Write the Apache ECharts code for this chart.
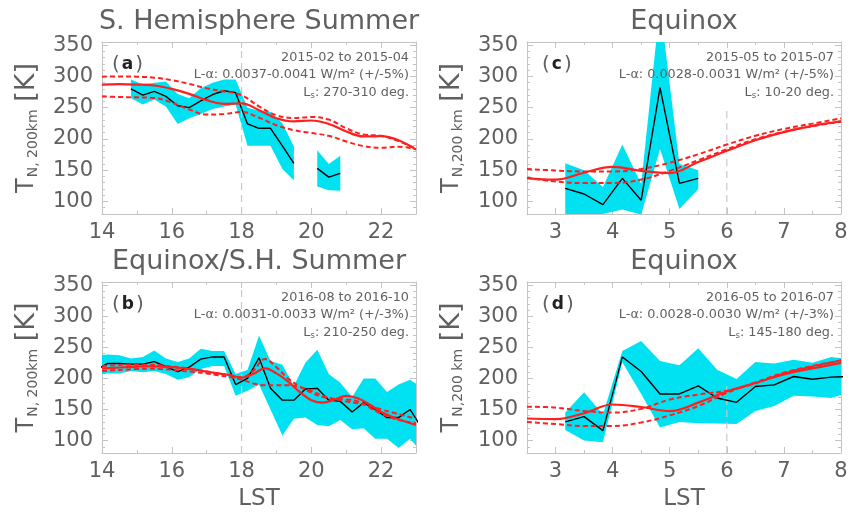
<!DOCTYPE html>
<html>
<head>
<meta charset="utf-8">
<script src="https://cdn.jsdelivr.net/npm/echarts@6/dist/echarts.min.js"></script>
<style>html,body{margin:0;padding:0;background:#fff;}#c{width:851px;height:512px;}</style>
</head>
<body>
<div id="c"></div>
<script>
// ---------------- DATA ----------------
// tick labels
const xTicksPM = [14, 16, 18, 20, 22];
const xMinorPM = [15, 17, 19, 21];
const xTicksAM = [3, 4, 5, 6, 7, 8];
const xMinorAM = [2.5, 3.5, 4.5, 5.5, 6.5, 7.5];
const yTicks = [100, 150, 200, 250, 300, 350];
const yMinor = [90, 110, 120, 130, 140, 160, 170, 180, 190, 210, 220, 230, 240, 260, 270, 280, 290, 310, 320, 330, 340];

// Panel (a) observations
const aObsX  = [14.83, 15.17, 15.5, 15.83, 16.17, 16.5, 16.83, 17.17, 17.5, 17.83, 18.17, 18.5, 18.83, 19.17, 19.5, 19.83, 20.17, 20.5, 20.83];
const aObsT  = [280, 270, 276, 268, 253, 250, 261, 271, 277, 274, 224, 217, 217, 189, 161, null, 153, 139, 145];
const aObsHi = [295, 287, 290, 292, 272, 265, 281, 290, 295, 295, 250, 245, 243, 225, 188, null, 182, 160, 173];
const aObsLo = [265, 255, 263, 252, 224, 233, 240, 248, 252, 255, 189, 189, 189, 152, 134, null, 124, 118, 117];
// Panel (a) model
const aModX  = [14, 14.5, 15, 15.5, 16, 16.5, 17, 17.5, 18, 18.5, 19, 19.5, 20, 20.5, 21, 21.5, 22, 22.5, 23];
const aModT  = [287, 287.5, 287, 285.5, 280, 272, 262, 256, 257, 246, 233, 228, 229.5, 224, 212, 204, 204.5, 198, 183];
const aModHi = [299.5, 300, 299.5, 298, 294, 288, 281, 276, 270, 252, 238, 233.5, 235, 231, 217, 207, 205, 196.5, 184.5];
const aModLo = [268, 267, 266.5, 265.5, 258, 247, 239, 240, 243, 234, 222, 214, 209.5, 205, 196, 188.5, 186, 187.5, 183.5];

// Panel (b) observations
const bObsX  = [13.83, 14.17, 14.5, 14.83, 15.17, 15.5, 15.83, 16.17, 16.5, 16.83, 17.17, 17.5, 17.83, 18.17, 18.5, 18.83, 19.17, 19.5, 19.83, 20.17, 20.5, 20.83, 21.17, 21.5, 21.83, 22.17, 22.5, 22.83, 23.17];
const bObsT  = [214, 224, 224, 223, 223, 227, 219, 211, 218, 231, 234.5, 234.5, 190, 200, 233, 184, 165, 165, 183, 184, 165, 163, 146, 161, 150, 137, 137, 150, 120];
const bObsHi = [237, 238.6, 237, 232, 234.5, 245, 232, 226.5, 232, 247.6, 244, 244, 207, 213.5, 269, 228, 222, 188, 225, 246, 207, 193, 170, 200, 200, 178, 190, 198, 185];
const bObsLo = [205, 208, 208, 212, 210, 212, 207, 198, 202, 215, 220, 220, 172, 180, 190, 150, 108, 135, 137, 125, 123, 133, 118, 120, 103, 103, 88, 103, 80];
// Panel (b) model
const bModX  = [14, 14.33, 14.67, 15, 15.33, 15.67, 16, 16.33, 16.67, 17, 17.33, 17.67, 18, 18.33, 18.67, 19, 19.33, 19.67, 20, 20.33, 20.67, 21, 21.33, 21.67, 22, 22.33, 22.67, 23];
const bModT  = [216, 217, 218, 219, 219.5, 219, 218, 216, 214, 211, 208, 205, 201, 207, 216, 208, 195, 178, 165, 161, 166, 172, 168, 158, 146, 138, 131, 125];
const bModHi = [220, 221, 222, 222, 222, 221, 219, 217, 214, 211, 208, 205, 202, 212, 231, 218, 200, 187, 177, 170, 166, 163, 160, 156, 150, 145, 140, 135];
const bModLo = [212, 213, 214, 215, 215.5, 215, 214, 212, 210, 208, 205, 202, 198, 192, 189, 189, 189, 186, 180, 172, 167, 166, 163, 153, 143, 136, 131, 128];

// Panel (c) observations
const cObsX  = [3.17, 3.5, 3.83, 4.17, 4.5, 4.83, 5.17, 5.5];
const cObsT  = [121, 112, 95, 137, 102, 282, 129, 137];
const cObsHi = [161, 150, 123, 191, 128, 415, 160, 150];
const cObsLo = [78, 78, 80, 87, 79, 184, 88, 120];
// Panel (c) model
const cModX  = [2.5, 3, 3.5, 4, 4.5, 5, 5.5, 6, 6.5, 7, 7.5, 8];
const cModT  = [137.5, 135, 146, 155.5, 149, 145.5, 163, 181, 198, 211, 221, 228];
const cModHi = [152, 149.5, 148, 148, 152, 162, 175.5, 191, 205, 216, 224.5, 233];
const cModLo = [138, 132, 129.5, 129.5, 135, 149, 166, 183.5, 199.5, 211.5, 220.5, 227.5];

// Panel (d) observations
const dObsX  = [3.17, 3.5, 3.83, 4.17, 4.5, 4.83, 5.17, 5.5, 5.83, 6.17, 6.5, 6.83, 7.17, 7.5, 7.83, 8.17];
const dObsT  = [130, 138.5, 116, 234.5, 211, 175, 175, 188, 168.5, 161.5, 187, 189.5, 203, 198.5, 202, 203];
const dObsHi = [145, 177.5, 142, 244, 260, 228, 221, 248.5, 214, 199, 226.5, 224, 230, 225, 234.5, 230];
const dObsLo = [117, 100, 97.4, 226, 175, 121, 130, 128, 127.5, 126.5, 147.5, 155.5, 172, 171, 168.5, 178];
// Panel (d) model
const dModX  = [2.5, 3, 3.5, 4, 4.5, 5, 5.5, 6, 6.5, 7, 7.5, 8];
const dModT  = [135.5, 134.5, 144, 158, 154, 147.5, 161, 179, 192.5, 206.5, 216, 225];
const dModHi = [154.5, 153, 147.5, 145, 151, 166, 174, 180, 192, 208, 219, 229];
const dModLo = [130, 126.5, 123.5, 123.5, 129, 140.5, 155.5, 176.5, 193.5, 209, 220, 229];

// Vertical dashed marker lines (LST, from T, to T)
const aMark = [18, 80, 355];
const bMark = [18, 80, 355];
const cMark = [6, 80, 245];
const dMark = [6, 80, 187];

// Texts
const titles = ['S. Hemisphere Summer', 'Equinox/S.H. Summer', 'Equinox', 'Equinox'];
const letters = ['a', 'b', 'c', 'd'];
const dates = ['2015-02 to 2015-04', '2016-08 to 2016-10', '2015-05 to 2015-07', '2016-05 to 2016-07'];
const lyman = ['0.0037-0.0041 W/m² (+/-5%)', '0.0031-0.0033 W/m² (+/-3%)', '0.0028-0.0031 W/m² (+/-5%)', '0.0028-0.0030 W/m² (+/-3%)'];
const ls = ['270-310 deg.', '210-250 deg.', '10-20 deg.', '145-180 deg.'];
const ySub = ['N, 200km', 'N, 200km', 'N,200 km', 'N,200 km'];

// ---------------- CHART ----------------
const FONT = 'DejaVu Sans';
const GRAY = '#606060';
const FRAME = '#c4c4c4';
const CYAN = '#00e2f2';
const RED = '#ff1f1f';
const Y_MIN = 80, Y_MAX = 355;

const panels = [
  {left: 102, top: 42, xMin: 14, xMax: 23, xt: xTicksPM, xm: xMinorPM, ox: aObsX, ot: aObsT, oh: aObsHi, ol: aObsLo, mx: aModX, mt: aModT, mh: aModHi, ml: aModLo, mk: aMark, bottom: false},
  {left: 102, top: 282, xMin: 14, xMax: 23, xt: xTicksPM, xm: xMinorPM, ox: bObsX, ot: bObsT, oh: bObsHi, ol: bObsLo, mx: bModX, mt: bModT, mh: bModHi, ml: bModLo, mk: bMark, bottom: true},
  {left: 527, top: 42, xMin: 2.5, xMax: 8, xt: xTicksAM, xm: xMinorAM, ox: cObsX, ot: cObsT, oh: cObsHi, ol: cObsLo, mx: cModX, mt: cModT, mh: cModHi, ml: cModLo, mk: cMark, bottom: false},
  {left: 527, top: 282, xMin: 2.5, xMax: 8, xt: xTicksAM, xm: xMinorAM, ox: dObsX, ot: dObsT, oh: dObsHi, ol: dObsLo, mx: dModX, mt: dModT, mh: dModHi, ml: dModLo, mk: dMark, bottom: true}
];
const GW = 314, GH = 172;

const grids = [], xAxes = [], yAxes = [], series = [], graphics = [];
const pairs = (xs, ys) => xs.map((x, i) => [x, ys[i]]);

panels.forEach((p, i) => {
  grids.push({left: p.left, top: p.top, width: GW, height: GH, containLabel: false});
  const tickStyle = {color: FRAME, width: 1};
  const baseX = {type: 'value', gridIndex: i, min: p.xMin, max: p.xMax, splitLine: {show: false}, axisPointer: {show: false}};
  xAxes.push(Object.assign({}, baseX, {
    position: 'bottom',
    axisLine: {show: true, onZero: false, lineStyle: {color: FRAME, width: 1}},
    axisTick: {show: true, inside: true, length: 6, customValues: p.xt, lineStyle: tickStyle},
    axisLabel: {show: true, customValues: p.xt, color: GRAY, fontSize: 21, fontFamily: FONT, margin: 8},
    name: p.bottom ? 'LST' : '', nameLocation: 'middle', nameGap: 35,
    nameTextStyle: {color: GRAY, fontSize: 23, fontFamily: FONT}
  }));
  xAxes.push(Object.assign({}, baseX, {
    position: 'top',
    axisLine: {show: true, onZero: false, lineStyle: {color: FRAME, width: 1}},
    axisTick: {show: true, inside: true, length: 6, customValues: p.xt, lineStyle: tickStyle},
    axisLabel: {show: false}
  }));
  xAxes.push(Object.assign({}, baseX, {
    position: 'bottom',
    axisLine: {show: false, onZero: false},
    axisTick: {show: true, inside: true, length: 3, customValues: p.xm, lineStyle: tickStyle},
    axisLabel: {show: false}
  }));
  xAxes.push(Object.assign({}, baseX, {
    position: 'top',
    axisLine: {show: false, onZero: false},
    axisTick: {show: true, inside: true, length: 3, customValues: p.xm, lineStyle: tickStyle},
    axisLabel: {show: false}
  }));

  const baseY = {type: 'value', gridIndex: i, min: Y_MIN, max: Y_MAX, splitLine: {show: false}, axisPointer: {show: false}};
  yAxes.push(Object.assign({}, baseY, {
    position: 'left',
    axisLine: {show: true, onZero: false, lineStyle: {color: FRAME, width: 1}},
    axisTick: {show: true, inside: true, length: 6, customValues: yTicks, lineStyle: tickStyle},
    axisLabel: {show: true, customValues: yTicks, color: GRAY, fontSize: 21, fontFamily: FONT, margin: 9},
    name: '{t|T}{s|' + ySub[i] + '}  {k|[K]}', nameLocation: 'middle', nameGap: 62, nameRotate: 90,
    nameTextStyle: {color: GRAY, fontFamily: FONT, rich: {
      t: {fontSize: 24, color: GRAY, fontFamily: FONT},
      s: {fontSize: 14, color: GRAY, fontFamily: FONT, padding: [13, 0, 0, 1]},
      k: {fontSize: 27, color: GRAY, fontFamily: FONT}
    }}
  }));
  yAxes.push(Object.assign({}, baseY, {
    position: 'right',
    axisLine: {show: true, onZero: false, lineStyle: {color: FRAME, width: 1}},
    axisTick: {show: true, inside: true, length: 6, customValues: yTicks, lineStyle: tickStyle},
    axisLabel: {show: false}
  }));
  yAxes.push(Object.assign({}, baseY, {
    position: 'left',
    axisLine: {show: false, onZero: false},
    axisTick: {show: true, inside: true, length: 3, customValues: yMinor, lineStyle: tickStyle},
    axisLabel: {show: false}
  }));
  yAxes.push(Object.assign({}, baseY, {
    position: 'right',
    axisLine: {show: false, onZero: false},
    axisTick: {show: true, inside: true, length: 3, customValues: yMinor, lineStyle: tickStyle},
    axisLabel: {show: false}
  }));

  const xi = 4 * i, yi = 4 * i;
  // contiguous segments of the observation band
  const segs = [];
  let st = null;
  p.ox.forEach((x, k) => {
    if (p.ot[k] == null) { if (st !== null) { segs.push([st, k - 1]); st = null; } }
    else if (st === null) st = k;
  });
  if (st !== null) segs.push([st, p.ox.length - 1]);

  series.push({
    type: 'custom', xAxisIndex: xi, yAxisIndex: yi, clip: true, silent: true, z: 1,
    encode: {x: 0, y: 1},
    data: segs.map(s => [p.ox[s[0]], p.ot[s[0]], s[0], s[1]]),
    renderItem: (params, api) => {
      const s = segs[params.dataIndex];
      const pts = [];
      for (let k = s[0]; k <= s[1]; k++) pts.push(api.coord([p.ox[k], p.oh[k]]));
      for (let k = s[1]; k >= s[0]; k--) pts.push(api.coord([p.ox[k], p.ol[k]]));
      return {type: 'polygon', shape: {points: pts}, style: {fill: CYAN, stroke: null}};
    }
  });
  // vertical dashed marker
  series.push({
    type: 'line', xAxisIndex: xi, yAxisIndex: yi, z: 2, symbol: 'none', silent: true,
    data: [[p.mk[0], p.mk[1]], [p.mk[0], p.mk[2]]],
    lineStyle: {color: '#c8c8c8', width: 1.2, type: [7, 5]}
  });
  // observed mean
  series.push({
    type: 'line', xAxisIndex: xi, yAxisIndex: yi, z: 3, symbol: 'none', silent: true, clip: true,
    data: pairs(p.ox, p.ot), connectNulls: false,
    lineStyle: {color: '#000', width: 1.4}
  });
  // model lines
  series.push({
    type: 'line', xAxisIndex: xi, yAxisIndex: yi, z: 4, symbol: 'none', silent: true, smooth: 0.4, clip: true,
    data: pairs(p.mx, p.mh), lineStyle: {color: RED, width: 2, type: [5, 3]}
  });
  series.push({
    type: 'line', xAxisIndex: xi, yAxisIndex: yi, z: 4, symbol: 'none', silent: true, smooth: 0.4, clip: true,
    data: pairs(p.mx, p.ml), lineStyle: {color: RED, width: 2, type: [5, 3]}
  });
  series.push({
    type: 'line', xAxisIndex: xi, yAxisIndex: yi, z: 5, symbol: 'none', silent: true, smooth: 0.4, clip: true,
    data: pairs(p.mx, p.mt), lineStyle: {color: RED, width: 2.2}
  });

  // texts
  const cx = p.left + GW / 2;
  graphics.push({type: 'text', x: cx, y: p.top - 20, silent: true, z: 100,
    style: {text: titles[i], fontSize: 27, fontFamily: FONT, fill: GRAY, align: 'center', verticalAlign: 'middle'}});
  graphics.push({type: 'text', x: p.left + (p.left > 400 ? 15 : 10), y: p.top + 23, silent: true, z: 100,
    style: {text: '{p|(}{l|' + letters[i] + '}{p|)}', align: 'left', verticalAlign: 'middle',
      rich: {p: {fontSize: 20, fontFamily: FONT, fill: GRAY, color: GRAY}, l: {fontSize: 17, fontWeight: 'bold', fontFamily: FONT, color: '#222', fill: '#222', padding: [0, 2, 0, 2]}}}});
  const rx = p.left + GW - 7;
  graphics.push({type: 'text', x: rx, y: p.top + 16, silent: true, z: 100,
    style: {text: dates[i], fontSize: 12.8, fontFamily: FONT, fill: GRAY, align: 'right', verticalAlign: 'middle'}});
  graphics.push({type: 'text', x: rx, y: p.top + 33, silent: true, z: 100,
    style: {text: 'L-α: ' + lyman[i], fontSize: 12.8, fontFamily: FONT, fill: GRAY, align: 'right', verticalAlign: 'middle'}});
  graphics.push({type: 'text', x: rx, y: p.top + 51, silent: true, z: 100,
    style: {text: '{n|L}{s|s}{n|: ' + ls[i] + '}', align: 'right', verticalAlign: 'middle',
      rich: {n: {fontSize: 12.8, fontFamily: FONT, color: GRAY, fill: GRAY}, s: {fontSize: 8.5, fontFamily: FONT, color: GRAY, fill: GRAY, padding: [5, 0, 0, 0]}}}});
});

const chart = echarts.init(document.getElementById('c'), null, {renderer: 'canvas'});
chart.setOption({
  animation: false,
  backgroundColor: '#ffffff',
  grid: grids,
  xAxis: xAxes,
  yAxis: yAxes,
  series: series,
  graphic: {elements: graphics, z: 100}
});
</script>
</body>
</html>
